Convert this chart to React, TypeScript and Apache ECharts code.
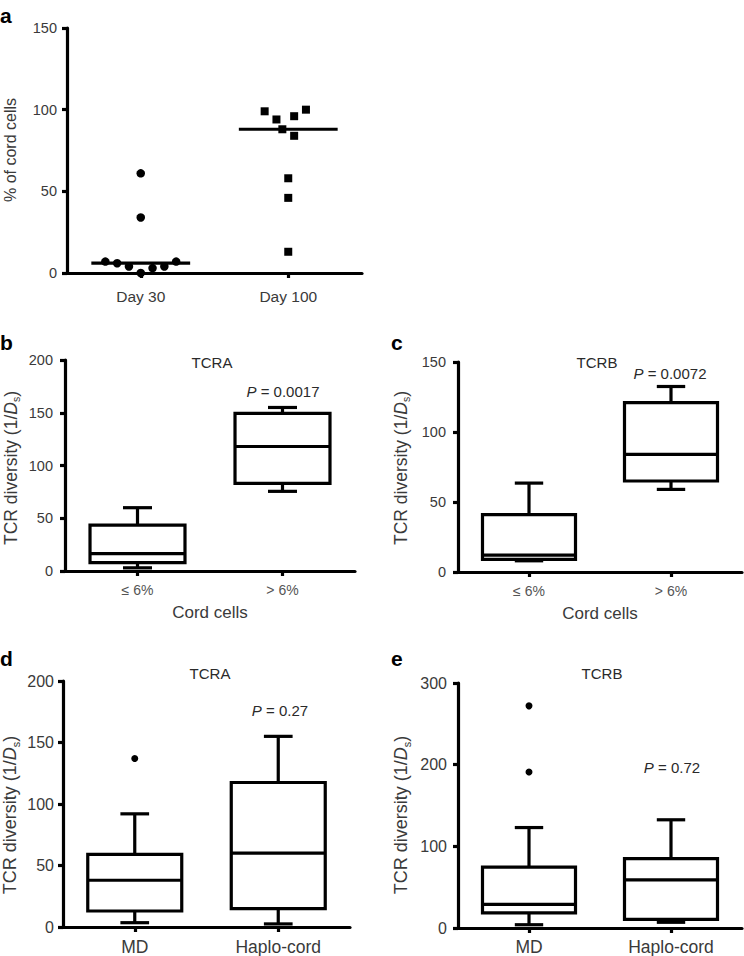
import React, { useEffect, useRef } from 'react';
import * as echarts from 'echarts';

// ---------- Panel a ----------
const panelACategories = ['Day 30', 'Day 100'];
const day30Values = [61, 34, 7, 6, 4, 0, 3, 4, 7];
const day30Jitter = [0, 0, -0.24, -0.16, -0.08, 0, 0.08, 0.16, 0.24];
const day100Values = [99, 94, 88, 96, 84, 100, 58, 46, 13];
const day100Jitter = [-0.16, -0.08, -0.04, 0.04, 0.04, 0.12, 0, 0, 0];
const panelAMedians = [6, 88];
const panelATicks = { max: 150, interval: 50 };

// ---------- Panels b, c (cord cells) ----------
const cordCategories = ['≤ 6%', '> 6%'];
// [min, Q1, median, Q3, max]
const tcraCord = [
  [3, 8, 16.5, 43.5, 60],
  [75.5, 83, 118, 149.5, 155],
];
const tcrbCord = [
  [8, 9, 12, 41, 63.5],
  [59, 65, 84, 121, 132.5],
];

// ---------- Panels d, e (MD vs Haplo-cord) ----------
const donorCategories = ['MD', 'Haplo-cord'];
const tcraDonor = [
  [3.5, 13, 38, 59, 92],
  [2.5, 15, 60, 117.5, 155],
];
const tcraDonorOutliers = [[0, 137]];
const tcrbDonor = [
  [4, 18.5, 29, 74.5, 123],
  [7, 10.5, 59, 85, 132.5],
];
const tcrbDonorOutliers = [[0, 272], [0, 191]];

const pValues = ['0.0017', '0.0072', '0.27', '0.72'];

const FONT = '"Liberation Sans", Arial, Helvetica, sans-serif';
const INK = '#000';
const LW = 3.2;
const BOX_FRAC = 0.655;
const CAP_FRAC = 0.2;

function boxRender(_params: any, api: any) {
  const ci = api.value(0);
  const pMin = api.coord([ci, api.value(1)]);
  const pQ1 = api.coord([ci, api.value(2)]);
  const pMed = api.coord([ci, api.value(3)]);
  const pQ3 = api.coord([ci, api.value(4)]);
  const pMax = api.coord([ci, api.value(5)]);
  const band = api.size([1, 0])[0];
  const bw = band * BOX_FRAC;
  const cw = band * CAP_FRAC;
  const x = pMed[0];
  const ls = { stroke: INK, lineWidth: LW, fill: null };
  return {
    type: 'group',
    children: [
      { type: 'line', shape: { x1: x, y1: pMax[1], x2: x, y2: pQ3[1] }, style: ls },
      { type: 'line', shape: { x1: x, y1: pQ1[1], x2: x, y2: pMin[1] }, style: ls },
      { type: 'line', shape: { x1: x - cw / 2, y1: pMax[1], x2: x + cw / 2, y2: pMax[1] }, style: ls },
      { type: 'line', shape: { x1: x - cw / 2, y1: pMin[1], x2: x + cw / 2, y2: pMin[1] }, style: ls },
      {
        type: 'rect',
        shape: { x: x - bw / 2, y: pQ3[1], width: bw, height: pQ1[1] - pQ3[1] },
        style: { stroke: INK, lineWidth: LW, fill: '#fff' },
      },
      { type: 'line', shape: { x1: x - bw / 2, y1: pMed[1], x2: x + bw / 2, y2: pMed[1] }, style: ls },
    ],
  };
}

function medianRender(_params: any, api: any) {
  const c = api.coord([api.value(0), api.value(1)]);
  const w = api.size([1, 0])[0] * 0.67;
  return {
    type: 'line',
    shape: { x1: c[0] - w / 2, y1: c[1], x2: c[0] + w / 2, y2: c[1] },
    style: { stroke: INK, lineWidth: LW },
  };
}

const axisLine = { show: true, onZero: false, lineStyle: { color: INK, width: LW } };
const axisTickStyle = { color: INK, width: LW };

function yAxis(gridIndex: number, max: number, interval: number, margin: number, fontSize: number) {
  return {
    type: 'value',
    gridIndex,
    min: 0,
    max,
    interval,
    splitLine: { show: false },
    axisLine,
    axisTick: { show: true, length: 5, lineStyle: axisTickStyle },
    axisLabel: { margin, fontSize, color: '#3a3a3a', fontFamily: FONT },
  };
}

function catAxis(
  gridIndex: number,
  data: string[],
  fontSize: number,
  margin: number,
  color: string,
  name?: string
) {
  return {
    type: 'category',
    gridIndex,
    data,
    boundaryGap: true,
    axisLine,
    axisTick: { show: true, alignWithLabel: true, length: 5, lineStyle: axisTickStyle },
    axisLabel: { margin, fontSize, color, fontFamily: FONT },
    name: name || '',
    nameLocation: 'middle',
    nameGap: 33,
    nameTextStyle: { fontSize: 17, color: '#3a3a3a', fontFamily: FONT },
  };
}

function boxData(rows: number[][]) {
  return rows.map((r, i) => [i, ...r]);
}

function boxSeries(xAxisIndex: number, yAxisIndex: number, rows: number[][]) {
  return {
    type: 'custom',
    xAxisIndex,
    yAxisIndex,
    renderItem: boxRender,
    encode: { x: 0, y: [1, 2, 3, 4, 5] },
    data: boxData(rows),
  };
}

function outlierSeries(xAxisIndex: number, yAxisIndex: number, pts: number[][]) {
  return {
    type: 'scatter',
    xAxisIndex,
    yAxisIndex,
    symbol: 'circle',
    symbolSize: 7,
    itemStyle: { color: INK, opacity: 1 },
    data: pts,
    z: 5,
  };
}

function letter(t: string, x: number, y: number) {
  return {
    type: 'text',
    x,
    y,
    style: {
      text: t,
      fontFamily: FONT,
      fontSize: 21,
      fontWeight: 'bold',
      fill: '#000',
      align: 'left',
      verticalAlign: 'middle',
    },
  };
}

function plainText(t: string, x: number, y: number, fontSize: number) {
  return {
    type: 'text',
    x,
    y,
    style: {
      text: t,
      fontFamily: FONT,
      fontSize,
      fill: '#2a2a2a',
      align: 'center',
      verticalAlign: 'middle',
    },
  };
}

function pText(p: string, x: number, y: number) {
  return {
    type: 'text',
    x,
    y,
    style: {
      text: '{i|P} = ' + p,
      fontFamily: FONT,
      fontSize: 15,
      fill: '#2a2a2a',
      align: 'center',
      verticalAlign: 'middle',
      rich: {
        i: { fontStyle: 'italic', fontFamily: FONT, fontSize: 15, fill: '#2a2a2a' },
      },
    },
  };
}

function yName(x: number, y: number, fontSize: number) {
  return {
    type: 'text',
    x,
    y,
    rotation: Math.PI / 2,
    style: {
      text: '{n|TCR diversity (1/}{i|D}{s|s}{n|)}',
      align: 'center',
      verticalAlign: 'middle',
      rich: {
        n: { fontFamily: FONT, fontSize, fill: '#3a3a3a', lineHeight: fontSize + 4 },
        i: { fontFamily: FONT, fontSize, fontStyle: 'italic', fill: '#3a3a3a', lineHeight: fontSize + 4 },
        s: { fontFamily: FONT, fontSize: fontSize * 0.6, fill: '#3a3a3a', lineHeight: fontSize * 0.6, verticalAlign: 'bottom' },
      },
    },
  };
}

const option: any = {
  animation: false,
  backgroundColor: '#fff',
  grid: [
    { left: 67, top: 28, width: 295, height: 245 },
    { left: 65, top: 360, width: 290, height: 211 },
    { left: 458, top: 362, width: 284, height: 210 },
    { left: 63, top: 681, width: 287, height: 248 },
    { left: 458, top: 683, width: 284, height: 246 },
  ],
  xAxis: [
    catAxis(0, panelACategories, 15.5, 15, '#3a3a3a'),
    { type: 'value', gridIndex: 0, min: -0.5, max: 1.5, show: false },
    catAxis(1, cordCategories, 14, 12, '#555', 'Cord cells'),
    catAxis(2, cordCategories, 14, 12, '#555', 'Cord cells'),
    catAxis(3, donorCategories, 17.5, 11, '#3a3a3a'),
    catAxis(4, donorCategories, 17.5, 10, '#3a3a3a'),
  ],
  yAxis: [
    yAxis(0, panelATicks.max, panelATicks.interval, 10, 14.5),
    yAxis(1, 200, 50, 12, 14.5),
    yAxis(2, 150, 50, 12, 14.5),
    yAxis(3, 200, 50, 9, 16),
    yAxis(4, 300, 100, 11, 16),
  ],
  series: [
    {
      type: 'scatter',
      xAxisIndex: 1,
      yAxisIndex: 0,
      symbol: 'circle',
      symbolSize: 8.5,
      itemStyle: { color: INK, opacity: 1 },
      clip: false,
      data: day30Values.map((v, i) => [0 + day30Jitter[i], v]),
    },
    {
      type: 'scatter',
      xAxisIndex: 1,
      yAxisIndex: 0,
      symbol: 'rect',
      symbolSize: 8,
      itemStyle: { color: INK, opacity: 1 },
      clip: false,
      data: day100Values.map((v, i) => [1 + day100Jitter[i], v]),
    },
    {
      type: 'custom',
      xAxisIndex: 0,
      yAxisIndex: 0,
      renderItem: medianRender,
      encode: { x: 0, y: 1 },
      data: panelAMedians.map((m, i) => [i, m]),
      z: 6,
    },
    boxSeries(2, 1, tcraCord),
    boxSeries(3, 2, tcrbCord),
    boxSeries(4, 3, tcraDonor),
    outlierSeries(4, 3, tcraDonorOutliers),
    boxSeries(5, 4, tcrbDonor),
    outlierSeries(5, 4, tcrbDonorOutliers),
  ],
  graphic: [
    letter('a', 0, 15),
    letter('b', 0, 342),
    letter('c', 391, 342),
    letter('d', 0, 658),
    letter('e', 391, 658),
    plainText('TCRA', 212, 362, 15),
    plainText('TCRB', 597, 362, 15),
    plainText('TCRA', 210, 673, 15),
    plainText('TCRB', 602, 673, 15),
    pText(pValues[0], 283, 391),
    pText(pValues[1], 670, 373),
    pText(pValues[2], 280, 710),
    pText(pValues[3], 672, 767),
    {
      type: 'text',
      x: 10,
      y: 150,
      rotation: Math.PI / 2,
      style: {
        text: '% of cord cells',
        fontFamily: FONT,
        fontSize: 16,
        fill: '#3a3a3a',
        align: 'center',
        verticalAlign: 'middle',
      },
    },
    yName(11, 468, 17.5),
    yName(401, 468, 17.5),
    yName(10, 815, 18),
    yName(401, 815, 18),
  ],
};

export default function App() {
  const ref = useRef<HTMLDivElement>(null);
  useEffect(() => {
    if (!ref.current) return;
    const chart = echarts.init(ref.current, null, { renderer: 'svg' });
    chart.setOption(option);
    return () => {
      chart.dispose();
    };
  }, []);
  return (
    <div
      ref={ref}
      style={{ position: 'absolute', left: 0, top: 0, width: 744, height: 956, background: '#fff' }}
    />
  );
}
